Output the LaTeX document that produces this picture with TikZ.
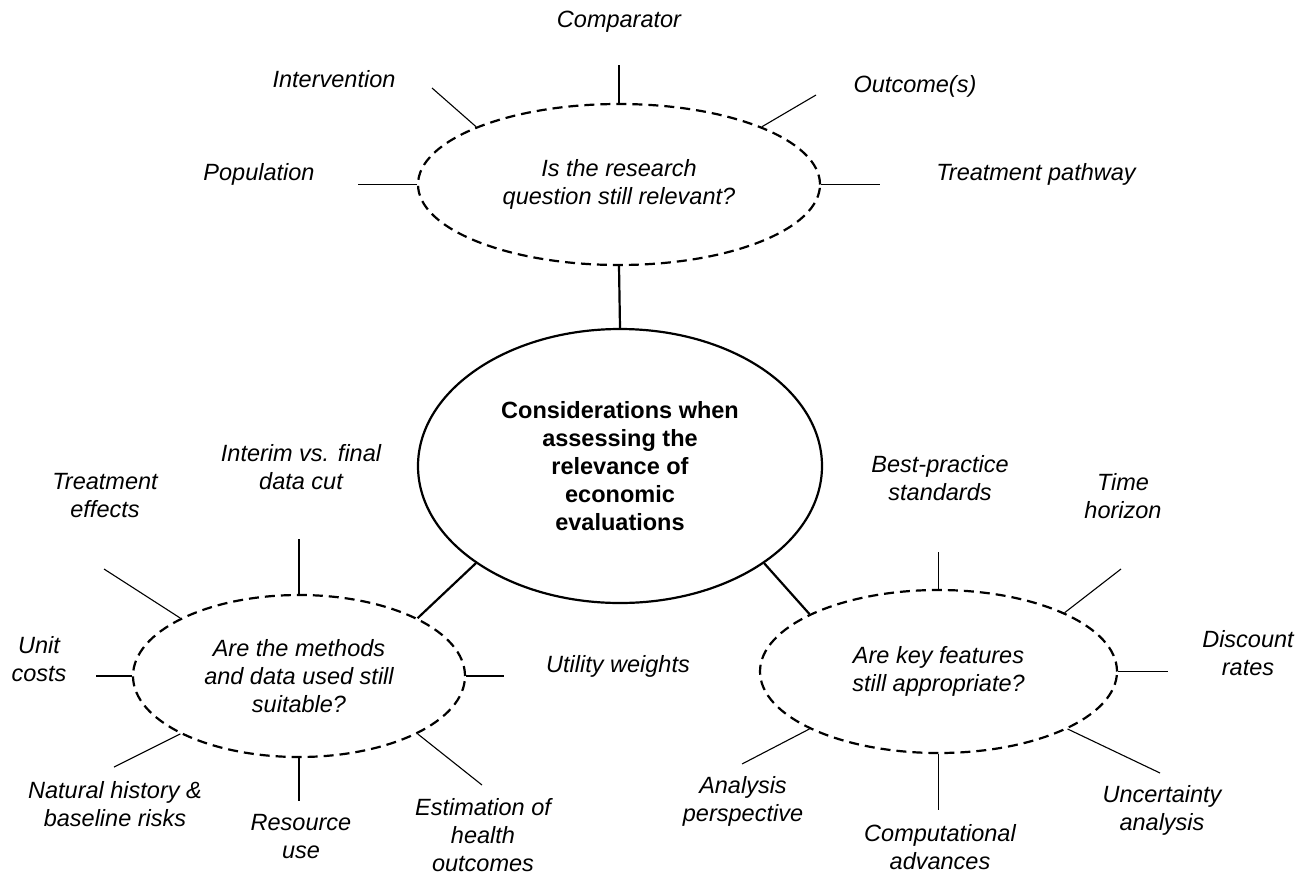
\documentclass[tikz,border=0pt]{standalone}
\usepackage{fontspec}
\setmainfont{Liberation Sans}
\usetikzlibrary{shapes.geometric}
\begin{document}
\begin{tikzpicture}[x=1pt,y=-1pt,
  lbl/.style={font=\fontsize{23.5}{28}\selectfont\itshape, align=center, inner sep=0pt},
  qell/.style={ellipse, draw, line width=2.2pt, dash pattern=on 10pt off 6pt, inner sep=0pt,
               font=\fontsize{23.5}{28}\selectfont\itshape, align=center},
  mainell/.style={ellipse, draw, line width=2.2pt, inner sep=0pt,
               font=\fontsize{23.5}{28}\selectfont\bfseries, align=center},
  spoke/.style={line width=1.1pt},
  link/.style={line width=2.2pt}]
\useasboundingbox (0,0) rectangle (1311,875);

% ellipses
\node[qell, minimum width=402pt, minimum height=161pt] (Q) at (619,184.5) {Is the research\\question still relevant?};
\node[mainell, minimum width=404pt, minimum height=274pt] (C) at (620,466) {Considerations when\\assessing the\\relevance of\\economic\\evaluations};
\node[qell, minimum width=332pt, minimum height=162pt] (M) at (299,676) {Are the methods\\and data used still\\suitable?};
\node[qell, minimum width=357pt, minimum height=163pt] (R) at (938.5,671.5) {Are key features\\still appropriate?};

% main connectors
\draw[link] (Q.south) -- (C.north);
\draw[link] (C.214) -- (M.26);
\draw[link] (C.326) -- (R.156);

% top labels
\node[lbl] (comp) at (619,22) {Comparator};
\node[lbl] (interv) at (334,79) {Intervention};
\node[lbl] (outc) at (915,86) {Outcome(s)};
\node[lbl] (pop) at (259,174) {Population};
\node[lbl] (tpath) at (1036,174) {Treatment pathway};

\coordinate (compE) at (619,65);
\coordinate (intervE) at (432,88);
\coordinate (outcE) at (816,95);
\coordinate (popE) at (358,184.5);
\coordinate (tpathE) at (880,184.5);

\draw[spoke] (Q.90) -- (compE);
\draw[spoke] (Q.158) -- (intervE);
\draw[spoke] (Q.22) -- (outcE);
\draw[spoke] (Q.180) -- (popE);
\draw[spoke] (Q.0) -- (tpathE);

% left labels
\node[lbl] (teff) at (105,496) {Treatment\\effects};
\node[lbl] (interim) at (301,467) {Interim vs. final\\data cut};
\node[lbl] (unit) at (39,659) {Unit\\costs};
\node[lbl] (util) at (618,666) {Utility weights};
\node[lbl] (nat) at (115,804) {Natural history \&\\baseline risks};
\node[lbl] (res) at (301,837) {Resource\\use};
\node[lbl] (est) at (483,835) {Estimation of\\health\\outcomes};

\coordinate (teffE) at (104,569);
\coordinate (interimE) at (299,539);
\coordinate (unitE) at (96,676);
\coordinate (utilE) at (504,676);
\coordinate (natE) at (114,767);
\coordinate (resE) at (299,801);
\coordinate (estE) at (482,785);

\draw[spoke] (M.154) -- (teffE);
\draw[spoke] (M.90) -- (interimE);
\draw[spoke] (M.180) -- (unitE);
\draw[spoke] (M.0) -- (utilE);
\draw[spoke] (M.206) -- (natE);
\draw[spoke] (M.270) -- (resE);
\draw[spoke] (M.334) -- (estE);

% right labels
\node[lbl] (best) at (940,478) {Best-practice\\standards};
\node[lbl] (time) at (1123,496) {Time\\horizon};
\node[lbl] (disc) at (1248,653) {Discount\\rates};
\node[lbl] (anal) at (743,801) {Analysis\\perspective};
\node[lbl] (compu) at (940,847) {Computational\\advances};
\node[lbl] (unc) at (1162,810) {Uncertainty\\analysis};

\coordinate (bestE) at (938.5,552);
\coordinate (timeE) at (1121,569);
\coordinate (discE) at (1168,671.5);
\coordinate (analE) at (742,764);
\coordinate (compuE) at (938.5,810);
\coordinate (uncE) at (1160,773);

\draw[spoke] (R.90) -- (bestE);
\draw[spoke] (R.25) -- (timeE);
\draw[spoke] (R.0) -- (discE);
\draw[spoke] (R.204) -- (analE);
\draw[spoke] (R.270) -- (compuE);
\draw[spoke] (R.336) -- (uncE);
\end{tikzpicture}
\end{document}
